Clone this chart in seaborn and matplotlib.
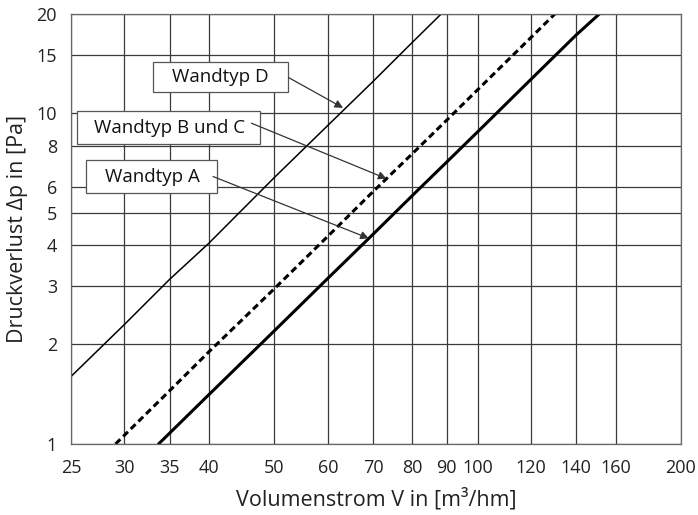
import matplotlib
matplotlib.use("Agg")
import matplotlib.pyplot as plt
import seaborn as sns
from matplotlib.patches import Rectangle
from matplotlib.ticker import FixedLocator, NullLocator, FixedFormatter
from pandas import DataFrame

# Wandtyp D (thin solid)
v_d = [25, 30, 35, 40, 50, 60, 70, 80, 88.3]
dp_d = [1.6, 2.3, 3.15, 4.05, 6.4, 9.2, 12.5, 16.4, 20]
# Wandtyp B und C (dashed)
v_bc = [29.1, 35, 40, 50, 60, 70, 80, 90, 100, 120, 130.1]
dp_bc = [1.0, 1.45, 1.9, 2.95, 4.25, 5.8, 7.55, 9.55, 11.8, 17.0, 20]
# Wandtyp A (bold solid)
v_a = [33.7, 40, 50, 60, 70, 80, 90, 100, 120, 140, 151.4]
dp_a = [1.0, 1.41, 2.2, 3.17, 4.31, 5.64, 7.13, 8.8, 12.7, 17.3, 20]

x_ticks = [25, 30, 35, 40, 50, 60, 70, 80, 90, 100, 120, 140, 160, 200]
y_ticks = [1, 2, 3, 4, 5, 6, 8, 10, 15, 20]

labels = ["Wandtyp D", "Wandtyp B und C", "Wandtyp A"]
label_points = [(63.2, 10.4), (73.3, 6.35), (69.0, 4.19)]

sns.set_style("white")
plt.rcParams['font.family'] = ['Open Sans', 'DejaVu Sans']

fig = plt.figure(figsize=(6.98, 5.15), dpi=100)
ax = fig.add_axes([0.1017, 0.1379, 0.8739, 0.8349])

df_d = DataFrame({'x': v_d, 'y': dp_d})
df_bc = DataFrame({'x': v_bc, 'y': dp_bc})
df_a = DataFrame({'x': v_a, 'y': dp_a})
sns.lineplot(x='x', y='y', data=df_d, ax=ax, color='black', linewidth=1.1)
sns.lineplot(x='x', y='y', data=df_bc, ax=ax, color='black', linewidth=2.2,
             linestyle=(0, (2.2, 1.3)))
sns.lineplot(x='x', y='y', data=df_a, ax=ax, color='black', linewidth=2.2)

ax.set_xscale('log')
ax.set_yscale('log')
ax.set_xlim(25, 200)
ax.set_ylim(1, 20)
ax.xaxis.set_major_locator(FixedLocator(x_ticks))
ax.xaxis.set_major_formatter(FixedFormatter([str(t) for t in x_ticks]))
ax.xaxis.set_minor_locator(NullLocator())
ax.yaxis.set_major_locator(FixedLocator(y_ticks))
ax.yaxis.set_major_formatter(FixedFormatter([str(t) for t in y_ticks]))
ax.yaxis.set_minor_locator(NullLocator())
ax.grid(True, which='major', color='#3a3a3a', linewidth=0.9)
ax.tick_params(axis='both', length=0, labelsize=13, colors='#222222')
ax.tick_params(axis='x', pad=11)
ax.tick_params(axis='y', pad=10)
for s in ax.spines.values():
    s.set_color('#666666')
    s.set_linewidth(0.9)

ax.set_xlabel("Volumenstrom V in [m³/hm]", fontsize=15.5, color='#222222', labelpad=8)
ax.set_ylabel("Druckverlust Δp in [Pa]", fontsize=15.5, color='#222222', labelpad=6)

# label boxes in axes fraction: (x0, y0, width, height), text centre, arrow start
boxes = [(0.1344, 0.8186, 0.2213, 0.0698),
         (0.0098, 0.6977, 0.3000, 0.0767),
         (0.0246, 0.5837, 0.2148, 0.0767)]
text_pos = [(0.245, 0.853), (0.162, 0.735), (0.133, 0.622)]
arrow_start = [(0.357, 0.852), (0.296, 0.746), (0.233, 0.622)]
for text, box, tp, start, pt in zip(labels, boxes, text_pos, arrow_start, label_points):
    ax.add_patch(Rectangle(box[:2], box[2], box[3], transform=ax.transAxes,
                           facecolor='white', edgecolor='#555555', linewidth=0.9,
                           zorder=4))
    ax.text(tp[0], tp[1], text, transform=ax.transAxes, ha='center', va='center',
            fontsize=13.5, color='#111111', zorder=5)
    ax.annotate("", xy=pt, xycoords='data', xytext=start, textcoords='axes fraction',
                arrowprops=dict(arrowstyle='-|>', color='#333333', lw=0.9,
                                mutation_scale=12, shrinkA=0, shrinkB=0),
                zorder=6)

fig.savefig("out.png", dpi=100)
plt.close()
